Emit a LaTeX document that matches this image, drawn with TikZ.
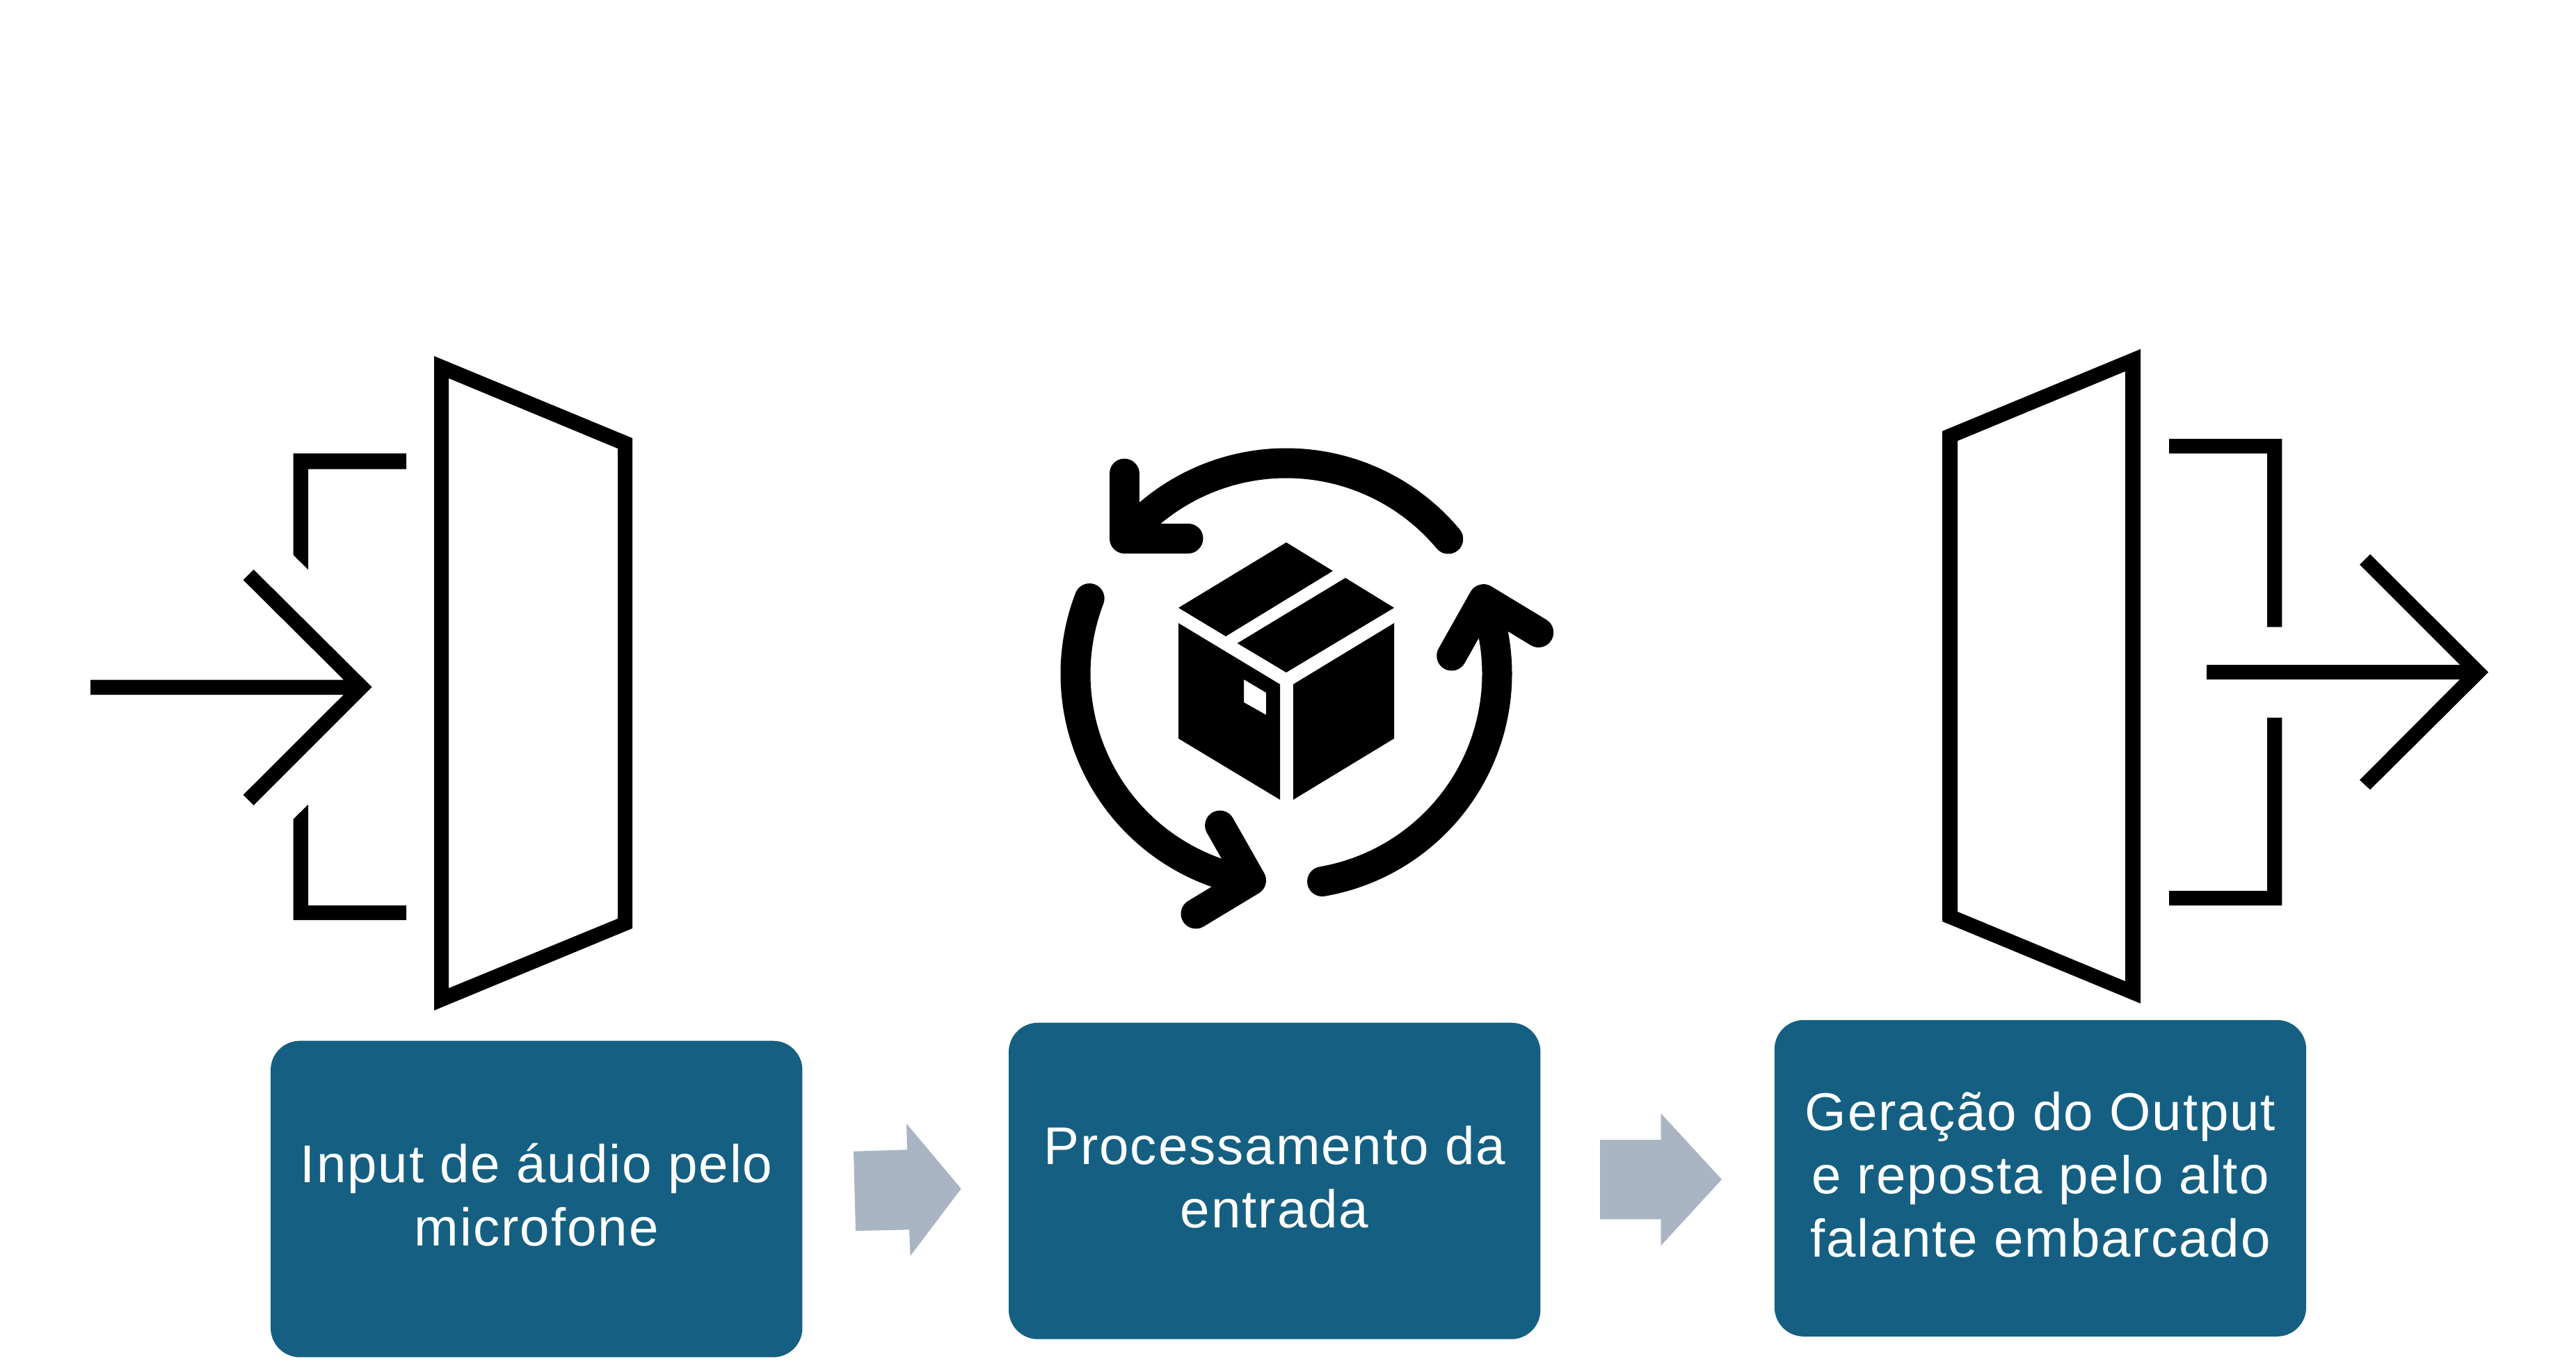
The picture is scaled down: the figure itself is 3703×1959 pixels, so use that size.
\documentclass[tikz,border=0pt]{standalone}
\usepackage{fontspec}
\setmainfont[LetterSpace=2.5]{Liberation Sans}
\definecolor{boxblue}{HTML}{156082}
\definecolor{flowgrey}{HTML}{A9B5C2}
\newcommand\liftdepth[1]{\rule[-#1]{0pt}{#1}}
\tikzset{
  x=0.5pt,y=-0.5pt,
  stepbox/.style={rounded corners=21pt,fill=boxblue,text=white,align=center,inner sep=0pt,
    minimum width=382.2pt,minimum height=227.5pt,font=\fontsize{38.2}{45.5}\selectfont},
  glyph/.style={fill=black,even odd rule},
  solid shape/.style={fill=black},
  flowarrow/.style={fill=flowgrey},
  ring/.style={draw=black,line width=21.5pt,line cap=round,line join=round},
}
\begin{document}
\begin{tikzpicture}
\useasboundingbox[fill=white] (0,0) rectangle (3703,1959);
% left door with entering arrow
\fill[glyph] (624,512)--(909,630)--(909,1335)--(624,1453)--cycle
  (645,544)--(888,645)--(888,1321)--(645,1421)--cycle;
\fill[solid shape] (421.5,652)--(584,652)--(584,674.5)--(443,674.5)--(443,819)--(421.5,798)--cycle;
\fill[solid shape] (421.5,1323)--(584,1323)--(584,1302)--(443,1302)--(443,1157)--(421.5,1178)--cycle;
\fill[solid shape] (130,977.5)--(494,977.5)--(349.7,834)--(364.6,819)--(534.6,988)--(364.6,1158)--(349.7,1143)--(494,999)--(130,999)--cycle;
% centre icon: box
\fill[solid shape] (1849,780)--(1916,821)--(1762,915)--(1694,874)--cycle;
\fill[solid shape] (1934,831)--(2004,874)--(1849,967)--(1778.6,925)--cycle;
\fill[glyph] (1694,896)--(1840,984)--(1840,1150)--(1694,1062)--cycle
  (1788,977)--(1820,996)--(1820,1028)--(1788,1010)--cycle;
\fill[solid shape] (1859,984)--(2004,896)--(2004,1062)--(1859,1150)--cycle;
% centre icon: cycle arrows
\draw[ring] ({1849+303*cos(39.8)},{969-303*sin(39.8)}) arc[start angle=39.8,end angle=138,radius=151.5pt];
\draw[ring] (1616,681)--(1616,774)--(1708,774);
\draw[ring] ({1849+303*cos(159)},{969-303*sin(159)}) arc[start angle=159,end angle=258,radius=151.5pt];
\draw[ring] (1753.6,1187)--(1798.5,1266)--(1719,1314);
\draw[ring] ({1849+303*cos(-80.2)},{969-303*sin(-80.2)}) arc[start angle=-80.2,end angle=19,radius=151.5pt];
\draw[ring] (2086.7,943)--(2132.6,861.6)--(2211.7,909.5);
% right door with leaving arrow
\fill[glyph] (3077,502)--(2792,620)--(2792,1325)--(3077,1443)--cycle
  (3055,534)--(2814,634)--(2814,1311)--(3055,1411)--cycle;
\fill[solid shape] (3118,631)--(3280.4,631)--(3280.4,901.5)--(3259,901.5)--(3259,652)--(3118,652)--cycle;
\fill[solid shape] (3118,1302)--(3280.4,1302)--(3280.4,1032)--(3259,1032)--(3259,1281)--(3118,1281)--cycle;
\fill[solid shape] (3172,956)--(3536,956)--(3392,812)--(3407,797)--(3577,966.6)--(3407,1135.6)--(3392,1121.6)--(3536,977)--(3172,977)--cycle;
% boxes
\node[stepbox] (input) at (771.25,1724.2) {Input de áudio pelo\\microfone\liftdepth{6pt}};
\node[stepbox] (proc) at (1832.2,1698.2) {Processamento da\\entrada\liftdepth{5.5pt}};
\node[stepbox] (output) at (2933,1694.3) {Geração do Output\\e reposta pelo alto\\falante embarcado\liftdepth{5.6pt}};
% block arrows
\fill[flowarrow] (1227,1655.7)--(1304,1653.3)--(1303,1615.7)--(1381.6,1709.3)--(1308.6,1806)--(1307,1768.3)--(1230,1770)--cycle;
\fill[flowarrow] (2300,1639)--(2387.5,1639)--(2387.5,1601)--(2475,1696)--(2387.5,1791.3)--(2387.5,1753.3)--(2300,1753.3)--cycle;
\end{tikzpicture}
\end{document}
